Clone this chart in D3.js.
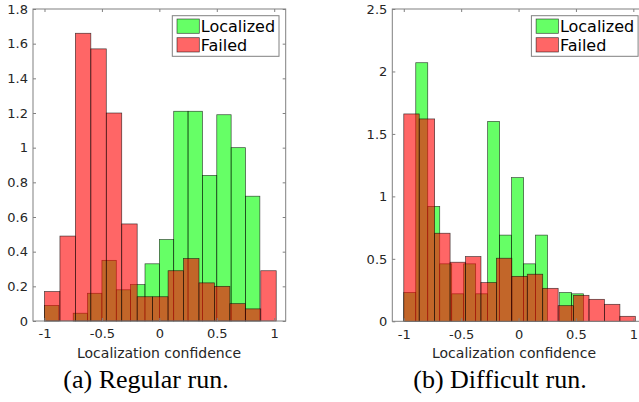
<!DOCTYPE html>
<html>
<head>
<meta charset="utf-8">
<script src="https://cdn.jsdelivr.net/npm/d3@7"></script>
<style>
  body { margin: 0; background: #fff; }
  svg { display: block; }
</style>
</head>
<body>
<div id="chart"></div>
<script>
// histogram bin heights (pdf)
const SERIES = ['Localized', 'Failed']

const regularLocalizedStart = -1
const regularLocalizedWidth = 0.125
const regularLocalized = [0.09, 0, 0.045, 0.16, 0.35, 0.18, 0.21, 0.33, 0.47, 1.21, 1.21, 0.84, 1.19, 1.0, 0.72, 0]

const regularFailedStart = -1
const regularFailedWidth = 0.1345
const regularFailed = [0.17, 0.49, 1.66, 1.57, 1.2, 0.56, 0.14, 0.14, 0.29, 0.36, 0.22, 0.2, 0.1, 0.07, 0.29]

const difficultLocalizedStart = -1
const difficultLocalizedWidth = 0.1044
const difficultLocalized = [0.23, 2.07, 0.92, 0.46, 0.22, 0.46, 0.22, 1.6, 0.69, 1.15, 0.46, 0.69, 0, 0.23, 0.22]

const difficultFailedStart = -1
const difficultFailedWidth = 0.1345
const difficultFailed = [1.66, 1.62, 0.705, 0.473, 0.518, 0.31, 0.505, 0.36, 0.377, 0.264, 0.125, 0.208, 0.176, 0.136, 0.04]

const xTicks = [-1, -0.5, 0, 0.5, 1]
const regularYTicks = [0, 0.2, 0.4, 0.6, 0.8, 1, 1.2, 1.4, 1.6, 1.8]
const difficultYTicks = [0, 0.5, 1, 1.5, 2, 2.5]

const xLabel = 'Localization confidence'
const captions = ['(a) Regular run.', '(b) Difficult run.']

// -------------------------------------------------------------------

const WIDTH = 639
const HEIGHT = 402

const COLORS = { Localized: '#00ff00', Failed: '#ff0000' }
const AXIS_COLOR = '#808080'
const TEXT_COLOR = '#262626'
const FONT = '"DejaVu Sans", sans-serif'

const toBins = (start, width, values) =>
  values.map((v, i) => ({ x0: start + i * width, x1: start + (i + 1) * width, v }))

const panels = [
  {
    left: 33, right: 285.7, top: 9, bottom: 321,
    yMax: 1.8, yTicks: regularYTicks, labelX: 159,
    series: {
      Localized: toBins(regularLocalizedStart, regularLocalizedWidth, regularLocalized),
      Failed: toBins(regularFailedStart, regularFailedWidth, regularFailed)
    }
  },
  {
    left: 392.3, right: 644.8, top: 9, bottom: 321.3,
    yMax: 2.5, yTicks: difficultYTicks, labelX: 514,
    series: {
      Localized: toBins(difficultLocalizedStart, difficultLocalizedWidth, difficultLocalized),
      Failed: toBins(difficultFailedStart, difficultFailedWidth, difficultFailed)
    }
  }
]

const fmt = d => `${+d.toFixed(2)}`

const svg = d3.select('#chart')
  .append('svg')
    .attr('width', WIDTH)
    .attr('height', HEIGHT)

svg.append('rect')
  .attr('width', '100%')
  .attr('height', '100%')
  .attr('fill', 'white')

function styleAxis (g) {
  g.select('.domain').remove()
  g.selectAll('.tick line').attr('stroke', AXIS_COLOR)
  g.selectAll('.tick text')
    .attr('fill', TEXT_COLOR)
    .style('font-family', FONT)
    .style('font-size', '13px')
}

function drawPanel (p) {
  const x = d3.scaleLinear().domain([-1.1, 1.1]).range([p.left, p.right])
  const y = d3.scaleLinear().domain([0, p.yMax]).range([p.bottom, p.top])

  // bars: green first, red on top, both translucent
  SERIES.forEach(name => {
    svg.append('g')
      .selectAll('rect')
      .data(p.series[name].filter(d => d.v > 0))
      .join('rect')
        .attr('x', d => x(d.x0))
        .attr('y', d => y(d.v))
        .attr('width', d => x(d.x1) - x(d.x0))
        .attr('height', d => y(0) - y(d.v))
        .attr('fill', COLORS[name])
        .attr('fill-opacity', 0.6)
        .attr('stroke', '#000')
        .attr('stroke-opacity', 0.7)
        .attr('stroke-width', 0.7)
  })

  // axes, ticks pointing inwards on all four sides
  svg.append('g')
    .attr('transform', `translate(0,${p.bottom})`)
    .call(d3.axisBottom(x).tickValues(xTicks).tickFormat(fmt).tickSize(-3).tickPadding(8))
    .call(styleAxis)
  svg.append('g')
    .attr('transform', `translate(0,${p.top})`)
    .call(d3.axisTop(x).tickValues(xTicks).tickFormat('').tickSize(-3))
    .call(styleAxis)
  svg.append('g')
    .attr('transform', `translate(${p.left},0)`)
    .call(d3.axisLeft(y).tickValues(p.yTicks).tickFormat(fmt).tickSize(-3).tickPadding(5))
    .call(styleAxis)
  svg.append('g')
    .attr('transform', `translate(${p.right},0)`)
    .call(d3.axisRight(y).tickValues(p.yTicks).tickFormat('').tickSize(-3))
    .call(styleAxis)

  svg.append('rect')
    .attr('x', p.left)
    .attr('y', p.top)
    .attr('width', p.right - p.left)
    .attr('height', p.bottom - p.top)
    .attr('fill', 'none')
    .attr('stroke', AXIS_COLOR)
    .attr('stroke-width', 1)

  svg.append('text')
    .attr('x', p.labelX)
    .attr('y', 357.5)
    .attr('text-anchor', 'middle')
    .attr('fill', TEXT_COLOR)
    .style('font-family', FONT)
    .style('font-size', '14px')
    .text(xLabel)

  // legend
  const lg = svg.append('g').attr('transform', `translate(${p.right - 113.4},15.7)`)
  lg.append('rect')
    .attr('width', 106.7)
    .attr('height', 40.6)
    .attr('fill', 'white')
    .attr('stroke', AXIS_COLOR)
  SERIES.forEach((name, i) => {
    lg.append('rect')
      .attr('x', 4.7)
      .attr('y', 3.3 + i * 18.7)
      .attr('width', 22.3)
      .attr('height', 14.3)
      .attr('fill', COLORS[name])
      .attr('fill-opacity', 0.6)
      .attr('stroke', '#000')
      .attr('stroke-opacity', 0.7)
      .attr('stroke-width', 0.7)
    lg.append('text')
      .attr('x', 28.5)
      .attr('y', 16.2 + i * 18.7)
      .attr('fill', '#000')
      .style('font-family', FONT)
      .style('font-size', '16px')
      .text(name)
  })
}

panels.forEach(drawPanel)

// sub-figure captions
svg.selectAll('text.caption')
  .data(captions)
  .join('text')
    .attr('class', 'caption')
    .attr('x', (d, i) => i === 0 ? 146 : 500)
    .attr('y', 388)
    .attr('text-anchor', 'middle')
    .attr('fill', '#000')
    .style('font-family', '"Liberation Serif", "Times New Roman", serif')
    .style('font-size', '26px')
    .text(d => d)
</script>
</body>
</html>
